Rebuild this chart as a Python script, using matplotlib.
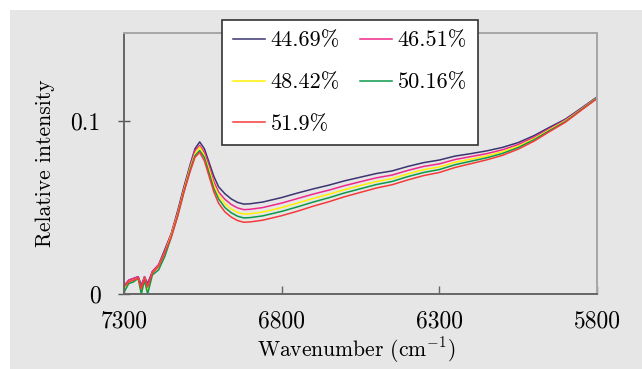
import matplotlib
matplotlib.use("Agg")
import matplotlib.pyplot as plt
from matplotlib.patches import Rectangle

plt.rcParams['font.family'] = ['cmr10', 'DejaVu Serif']
plt.rcParams['mathtext.fontset'] = 'cm'
plt.rcParams['axes.unicode_minus'] = False
plt.rcParams['axes.formatter.use_mathtext'] = True

# Wavenumber grid (cm-1) and relative intensity for each concentration
wavenumber = [7300, 7285, 7270, 7255, 7245, 7235, 7225, 7210, 7190, 7170,
              7150, 7130, 7110, 7090, 7075, 7060, 7045, 7030, 7015, 7000,
              6980, 6960, 6940, 6920, 6900, 6860, 6800, 6750, 6700, 6650,
              6600, 6550, 6500, 6450, 6400, 6350, 6300, 6250, 6200, 6150,
              6100, 6050, 6000, 5950, 5900, 5850, 5800]

s_4469 = [0.004, 0.008, 0.009, 0.010, 0.005, 0.010, 0.006, 0.013, 0.017, 0.026,
          0.035, 0.048, 0.062, 0.075, 0.084, 0.088, 0.084, 0.076, 0.068, 0.062,
          0.058, 0.055, 0.053, 0.052, 0.0522, 0.0532, 0.0558, 0.0584, 0.0608, 0.0630,
          0.0655, 0.0676, 0.0697, 0.0712, 0.0738, 0.0760, 0.0775, 0.0798, 0.0812, 0.0828,
          0.0848, 0.0876, 0.0916, 0.0965, 0.1012, 0.1075, 0.1140]
s_4651 = [0.005, 0.008, 0.009, 0.010, 0.004, 0.010, 0.005, 0.013, 0.017, 0.025,
          0.035, 0.047, 0.061, 0.074, 0.083, 0.086, 0.082, 0.074, 0.065, 0.059,
          0.0548, 0.0518, 0.0498, 0.0488, 0.0490, 0.0500, 0.0526, 0.0552, 0.0578, 0.0601,
          0.0627, 0.0650, 0.0672, 0.0688, 0.0715, 0.0738, 0.0753, 0.0778, 0.0795, 0.0812,
          0.0834, 0.0865, 0.0906, 0.0957, 0.1007, 0.1071, 0.1137]
s_4842 = [0.003, 0.007, 0.008, 0.009, 0.000, 0.009, 0.001, 0.012, 0.016, 0.024,
          0.034, 0.046, 0.060, 0.073, 0.081, 0.085, 0.080, 0.072, 0.063, 0.057,
          0.0522, 0.0492, 0.0472, 0.0462, 0.0464, 0.0474, 0.0500, 0.0526, 0.0553, 0.0577,
          0.0604, 0.0628, 0.0650, 0.0668, 0.0695, 0.0719, 0.0735, 0.0762, 0.0780, 0.0799,
          0.0823, 0.0855, 0.0898, 0.0951, 0.1002, 0.1068, 0.1135]
s_5016 = [0.001, 0.006, 0.007, 0.009, 0.000, 0.008, 0.000, 0.011, 0.014, 0.022,
          0.033, 0.045, 0.059, 0.072, 0.080, 0.083, 0.079, 0.070, 0.061, 0.055,
          0.0500, 0.0470, 0.0450, 0.0440, 0.0442, 0.0452, 0.0478, 0.0504, 0.0532, 0.0557,
          0.0585, 0.0609, 0.0633, 0.0651, 0.0679, 0.0703, 0.0720, 0.0748, 0.0768, 0.0788,
          0.0813, 0.0847, 0.0892, 0.0946, 0.0998, 0.1066, 0.1133]
s_5190 = [0.004, 0.007, 0.008, 0.009, 0.003, 0.009, 0.004, 0.012, 0.016, 0.024,
          0.033, 0.045, 0.059, 0.071, 0.079, 0.082, 0.077, 0.068, 0.059, 0.0525,
          0.0475, 0.0445, 0.0425, 0.0415, 0.0417, 0.0427, 0.0453, 0.0479, 0.0508, 0.0534,
          0.0563, 0.0588, 0.0613, 0.0632, 0.0660, 0.0685, 0.0703, 0.0732, 0.0754, 0.0776,
          0.0802, 0.0838, 0.0884, 0.0940, 0.0994, 0.1063, 0.1130]

labels = ['44.69%', '46.51%', '48.42%', '50.16%', '51.9%']
colors = ['#3b3572', '#f0288c', '#fff000', '#0a9a4a', '#f53a3a']
series = [s_4469, s_4651, s_4842, s_5016, s_5190]

TICK_FS = 17
LABEL_FS = 15.5
LEG_FS = 16

fig = plt.figure(figsize=(6.42, 3.69), dpi=100)
fig.patch.set_facecolor('white')
# light gray panel behind the plot
fig.add_artist(Rectangle((10 / 642, 0), 1, 1 - 10 / 369, transform=fig.transFigure,
                         facecolor='#e6e6e6', edgecolor='none', zorder=-10))

ax = fig.add_axes([124 / 642, 1 - 294 / 369, 473 / 642, 261 / 369])
ax.set_facecolor('#e6e6e6')

lines = []
for ys, lab, c in zip(series, labels, colors):
    ln, = ax.plot(wavenumber, ys, color=c, lw=1.1, label=lab)
    lines.append(ln)

ax.set_xlim(7300, 5800)
ax.set_ylim(0, 0.151)
ax.set_xticks([7300, 6800, 6300, 5800])
ax.set_xticklabels(['7300', '6800', '6300', '5800'])
ax.set_yticks([0, 0.1])
ax.set_yticklabels(['0', '0.1'])
ax.tick_params(axis='x', direction='in', length=6, width=1, color='#666666',
               labelsize=TICK_FS, pad=12)
ax.tick_params(axis='y', direction='inout', length=8, width=1, color='#555555',
               labelsize=TICK_FS, pad=13)

for side in ['left', 'bottom']:
    ax.spines[side].set_color('#666666')
    ax.spines[side].set_linewidth(1.4)
for side in ['top', 'right']:
    ax.spines[side].set_color('#a6a6a6')
    ax.spines[side].set_linewidth(1.4)

ax.set_xlabel('Wavenumber (cm$^{-1}$)', fontsize=LABEL_FS)
ax.xaxis.set_label_coords(0.49, -0.16)
ax.set_ylabel('Relative intensity', fontsize=LABEL_FS)
ax.yaxis.set_label_coords(-0.146, 0.5)

# legend filled row by row: two entries per row
order = [0, 2, 4, 1, 3]
leg = ax.legend([lines[i] for i in order], [labels[i] for i in order],
                loc='upper left', bbox_to_anchor=(0.207, 1.05), ncol=2,
                fontsize=LEG_FS, frameon=True, fancybox=False, framealpha=1,
                handlelength=1.45, handletextpad=0.25, columnspacing=0.9,
                labelspacing=1.0, borderpad=0.5, borderaxespad=0)
leg.get_frame().set_edgecolor('#333333')
leg.get_frame().set_linewidth(1.2)
leg.set_zorder(5)

fig.savefig('out.png', dpi=100)
